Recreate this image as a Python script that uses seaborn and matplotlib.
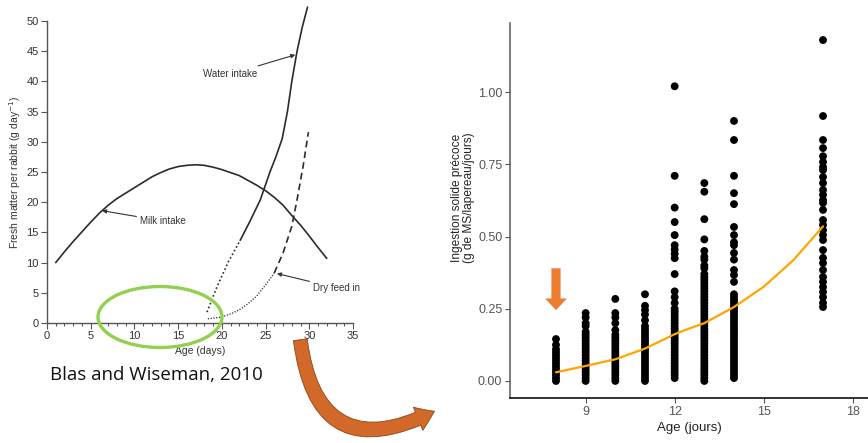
import numpy as np
import pandas as pd
import matplotlib
matplotlib.use('Agg')
import matplotlib.pyplot as plt
import seaborn as sns
from matplotlib.patches import Ellipse, FancyArrowPatch

sns.set_theme(style="white")
plt.rcParams['font.family'] = ['Liberation Sans', 'DejaVu Sans']

# ---- left panel : Blas and Wiseman, 2010 ----
milk_age = [1, 2, 3, 4, 5, 6, 7, 8, 9, 10, 11, 12, 13, 14, 15, 16, 17, 18, 19, 20, 21, 22,
            23, 24, 25, 26, 27, 28, 29, 30, 31, 32]
milk_val = [10, 11.8, 13.5, 15.1, 16.7, 18.2, 19.5, 20.6, 21.5, 22.4, 23.3, 24.2, 24.9, 25.5,
            25.9, 26.1, 26.2, 26.1, 25.8, 25.4, 24.9, 24.4, 23.6, 22.8, 21.9, 20.8, 19.5, 17.8,
            16.2, 14.4, 12.5, 10.7]

water_dot_age = [18.3, 19.5, 20.8, 22.1]
water_dot_val = [1.8, 6.2, 10.3, 13.7]
water_age = [22.1, 23.2, 24.4, 25.5, 26.2, 26.9, 27.5, 28.0, 28.6, 29.2, 29.8]
water_val = [13.7, 16.8, 20.4, 25.0, 27.6, 30.5, 35.0, 40.0, 45.0, 49.0, 52.3]

dry_dot_age = [18.4, 19, 20, 21, 22, 23, 24, 25, 26]
dry_dot_val = [0.7, 0.8, 1.0, 1.5, 2.2, 3.2, 4.5, 6.3, 8.3]
dry_age = [26, 27, 28, 28.6, 29.3, 29.9]
dry_val = [8.3, 11.6, 16.0, 20.4, 26.0, 31.6]

# ---- right panel : early solid intake ----
age_days = [8, 9, 10, 11, 12, 13, 14, 17]
intake = {
    8: [0.0, 0.01, 0.02, 0.03, 0.04, 0.05, 0.06, 0.07, 0.08, 0.09, 0.10, 0.11, 0.125, 0.145],
    9: [0.0, 0.01, 0.02, 0.03, 0.04, 0.05, 0.06, 0.07, 0.08, 0.09, 0.10, 0.11, 0.12, 0.13,
        0.14, 0.15, 0.16, 0.17, 0.19, 0.20, 0.22, 0.235],
    10: [0.0, 0.01, 0.02, 0.03, 0.04, 0.05, 0.06, 0.07, 0.08, 0.09, 0.10, 0.11, 0.12, 0.13,
         0.14, 0.15, 0.16, 0.176, 0.20, 0.22, 0.235, 0.284],
    11: [0.0, 0.01, 0.02, 0.03, 0.04, 0.05, 0.06, 0.07, 0.08, 0.09, 0.10, 0.11, 0.12, 0.13,
         0.14, 0.15, 0.16, 0.17, 0.18, 0.19, 0.21, 0.23, 0.245, 0.26, 0.30],
    12: [0.01, 0.02, 0.03, 0.04, 0.05, 0.06, 0.07, 0.08, 0.09, 0.10, 0.11, 0.12, 0.13, 0.14,
         0.15, 0.16, 0.17, 0.18, 0.19, 0.20, 0.21, 0.22, 0.23, 0.24, 0.25, 0.27, 0.29, 0.31,
         0.37, 0.425, 0.44, 0.455, 0.47, 0.505, 0.55, 0.60, 0.71, 1.02],
    13: [0.0, 0.01, 0.02, 0.03, 0.04, 0.05, 0.06, 0.07, 0.08, 0.09, 0.10, 0.11, 0.12, 0.13,
         0.14, 0.15, 0.16, 0.17, 0.18, 0.19, 0.20, 0.21, 0.22, 0.23, 0.24, 0.25, 0.26, 0.27,
         0.28, 0.29, 0.30, 0.31, 0.32, 0.33, 0.34, 0.35, 0.36, 0.37, 0.39, 0.40, 0.42, 0.43,
         0.45, 0.49, 0.56, 0.655, 0.685],
    14: [0.01, 0.02, 0.03, 0.04, 0.05, 0.06, 0.07, 0.08, 0.09, 0.10, 0.11, 0.12, 0.13, 0.14,
         0.15, 0.16, 0.17, 0.18, 0.19, 0.20, 0.21, 0.22, 0.23, 0.24, 0.25, 0.26, 0.27, 0.28,
         0.29, 0.30, 0.343, 0.367, 0.384, 0.42, 0.443, 0.47, 0.48, 0.505, 0.533, 0.612, 0.65,
         0.71, 0.834, 0.90],
    17: [0.256, 0.27, 0.29, 0.308, 0.325, 0.343, 0.36, 0.384, 0.408, 0.426, 0.453, 0.488,
         0.505, 0.522, 0.54, 0.557, 0.592, 0.616, 0.626, 0.644, 0.661, 0.685, 0.706, 0.73,
         0.74, 0.758, 0.778, 0.806, 0.834, 0.917, 1.18],
}
trend_age = [8, 9, 10, 11, 12, 12.5, 13, 13.5, 14, 15, 16, 17]
trend_val = [0.03, 0.052, 0.075, 0.112, 0.162, 0.182, 0.2, 0.228, 0.256, 0.326, 0.418, 0.535]

pts = pd.DataFrame([(a, v) for a in age_days for v in intake[a]], columns=['age', 'ingestion'])

fig = plt.figure(figsize=(8.68, 4.43), dpi=100)
W, H = 868, 443

# left axes
ax1 = fig.add_axes([47 / W, 120 / H, 306 / W, 52.5 * 6.04 / H])
ink = '#2b2b2b'
sns.lineplot(x=milk_age, y=milk_val, ax=ax1, color=ink, lw=1.2, sort=False)
sns.lineplot(x=water_dot_age, y=water_dot_val, ax=ax1, color=ink, lw=1.2, ls=(0, (1, 1.5)), sort=False)
sns.lineplot(x=water_age, y=water_val, ax=ax1, color=ink, lw=1.2, sort=False, clip_on=False)
sns.lineplot(x=dry_dot_age, y=dry_dot_val, ax=ax1, color=ink, lw=1.0, ls=(0, (0.8, 1.2)), sort=False)
sns.lineplot(x=dry_age, y=dry_val, ax=ax1, color=ink, lw=1.2, ls=(0, (4, 2.5)), sort=False)
ax1.set_xlim(0, 35)
ax1.set_ylim(0, 52.5)
ax1.set_xticks(range(0, 36, 5))
ax1.set_xticks(range(0, 36), minor=True)
ax1.set_yticks(range(0, 51, 5))
ax1.spines['left'].set_bounds(0, 50)
for s in ['top', 'right']:
    ax1.spines[s].set_visible(False)
for s in ['left', 'bottom']:
    ax1.spines[s].set_color('#555555')
    ax1.spines[s].set_linewidth(1.0)
ax1.tick_params(axis='both', which='major', length=4, width=0.8, color='#555555',
                labelsize=8, labelcolor='#333333', pad=2, bottom=True, left=True)
ax1.tick_params(axis='x', which='minor', length=2.5, width=0.8, color='#555555', bottom=True)
ax1.set_xlabel('Age (days)', fontsize=7.5, color='#333333', labelpad=3)
fig.text(15 / W, 1 - 172 / H, 'Fresh matter per rabbit (g day$^{-1}$)', rotation=90,
         ha='center', va='center', fontsize=7.5, color='#333333')

arrowprops = dict(arrowstyle='-|>', color='#333333', lw=0.8, mutation_scale=6, shrinkA=0, shrinkB=0)
ax1.annotate('Water intake', xy=(28.4, 44.4), xytext=(17.85, 41.2), fontsize=7, color='#333333',
             va='center', arrowprops=arrowprops)
ax1.annotate('Milk intake', xy=(6.3, 18.6), xytext=(10.6, 16.9), fontsize=7, color='#333333',
             va='center', arrowprops=arrowprops)
ax1.annotate('Dry feed in', xy=(26.3, 8.2), xytext=(30.4, 5.8), fontsize=7, color='#333333',
             va='center', arrowprops=arrowprops)

fig.text(50 / W, 1 - 375 / H, 'Blas and Wiseman, 2010', ha='left', va='center',
         fontsize=13.5, color='#111111', family=['Open Sans', 'DejaVu Sans'])

# right axes
ax2 = fig.add_axes([510 / W, 45 / H, 359 / W, 375 / H])
sns.scatterplot(data=pts, x='age', y='ingestion', ax=ax2, color='black', s=32,
                edgecolor='none', linewidth=0, legend=False)
sns.lineplot(x=trend_age, y=trend_val, ax=ax2, color='#FFA500', lw=1.6, sort=False)
ax2.set_xlim(6.45, 18.55)
ax2.set_ylim(-0.059, 1.239)
ax2.set_xticks([9, 12, 15, 18])
ax2.set_yticks([0, 0.25, 0.5, 0.75, 1.0])
ax2.set_yticklabels(['0.00', '0.25', '0.50', '0.75', '1.00'])
for s in ['top', 'right']:
    ax2.spines[s].set_visible(False)
ax2.spines['left'].set_color('#666666')
ax2.spines['bottom'].set_color('#111111')
ax2.spines['left'].set_linewidth(1.2)
ax2.spines['bottom'].set_linewidth(1.2)
ax2.tick_params(axis='both', length=3.5, width=0.8, color='#555555', labelsize=9,
                labelcolor='#555555', pad=2, bottom=True, left=True)
ax2.set_xlabel('Age (jours)', fontsize=9.5, color='#222222', labelpad=3)
ax2.set_ylabel('')
fig.text(463 / W, 1 - 198 / H, 'Ingestion solide précoce\n(g de MS/lapereau/jours)',
         rotation=90, ha='center', va='center', fontsize=8.6, color='#222222',
         multialignment='center', linespacing=0.95)

# orange down arrow next to the age 8 column
ax2.annotate('', xy=(8, 0.245), xytext=(8, 0.39),
             arrowprops=dict(arrowstyle='simple,head_length=0.7,head_width=1.3,tail_width=0.55',
                             mutation_scale=12, color='#ED7D31', lw=0, shrinkA=0, shrinkB=0))

# green ellipse over the left panel
fig.add_artist(Ellipse((160 / W, 1 - 317 / H), 124 / W, 61 / H, transform=fig.transFigure,
                       fill=False, edgecolor='#92D050', lw=2.4))

# curved orange arrow between panels
fig.add_artist(FancyArrowPatch((300 / W, 1 - 337 / H), (437 / W, 1 - 410 / H),
                               transform=fig.transFigure,
                               connectionstyle='arc3,rad=0.72',
                               arrowstyle='simple,head_length=13,head_width=18,tail_width=10',
                               mutation_scale=1, facecolor='#D2692A', edgecolor='#8B4513', lw=0.6))

fig.savefig('out.png', dpi=100)
